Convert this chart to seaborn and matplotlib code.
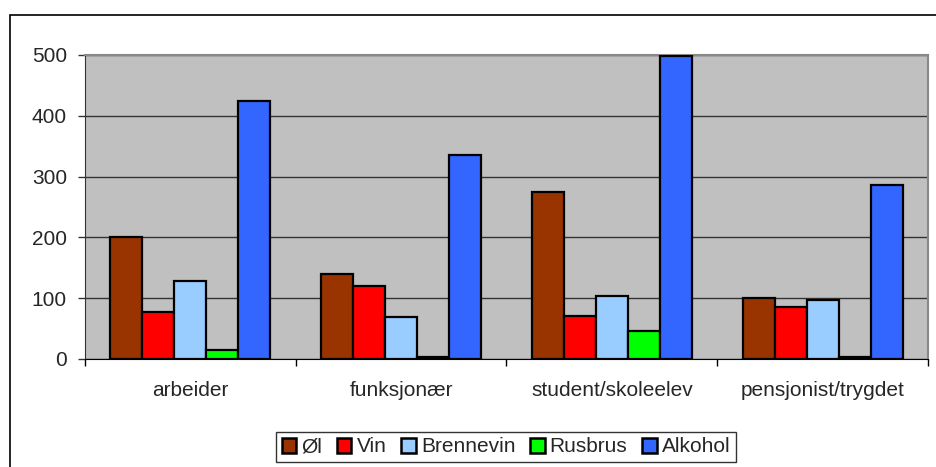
import pandas as pd
import matplotlib.pyplot as plt
import seaborn as sns
from matplotlib.patches import Rectangle

# =========================
# DATA
# =========================
groups = ["arbeider", "funksjonær", "student/skoleelev", "pensjonist/trygdet"]
series = ["Øl", "Vin", "Brennevin", "Rusbrus", "Alkohol"]

ol = [201, 139, 274, 100]
vin = [77, 120, 71, 85]
brennevin = [129, 69, 103, 97]
rusbrus = [14, 4, 46, 3]
alkohol = [425, 335, 498, 286]

colors = ["#993300", "#FF0000", "#99CCFF", "#00FF00", "#3366FF"]
yticks = [0, 100, 200, 300, 400, 500]

rows = []
for name, vals in zip(series, [ol, vin, brennevin, rusbrus, alkohol]):
    for g, v in zip(groups, vals):
        rows.append({"Gruppe": g, "Type": name, "Verdi": v})
df = pd.DataFrame(rows)

# =========================
# PLOT
# =========================
sns.set_style("white")
plt.rcParams['font.family'] = ['Liberation Sans', 'DejaVu Sans']

fig = plt.figure(figsize=(9.37, 4.67), dpi=100)
ax = fig.add_axes([85 / 937, 1 - 359 / 467, (928 - 85) / 937, (359 - 55) / 467])

sns.barplot(data=df, x="Gruppe", y="Verdi", hue="Type", order=groups,
            hue_order=series, palette=colors, saturation=1, width=0.76, gap=0,
            edgecolor="black", linewidth=1.6, ax=ax, legend=False, zorder=3)

ax.set_facecolor("#C0C0C0")
ax.set_ylim(0, 500)
ax.set_xlim(-0.5, 3.5)
ax.set_yticks(yticks)
ax.yaxis.grid(True, color="#333333", linewidth=1, zorder=1)
ax.set_axisbelow(True)
ax.set_xlabel("")
ax.set_ylabel("")

for s in ["top", "right"]:
    ax.spines[s].set_color("#888888")
    ax.spines[s].set_linewidth(1.5)
ax.spines["left"].set_color("#333333")
ax.spines["bottom"].set_color("black")

ax.tick_params(axis="y", direction="out", length=5, width=1, color="#333333",
               pad=8, labelsize=15, left=True)
ax.tick_params(axis="x", which="major", length=0, pad=16, labelsize=15)
ax.set_xticks([-0.5, 0.5, 1.5, 2.5, 3.5], minor=True)
ax.tick_params(axis="x", which="minor", direction="out", length=5, width=1,
               color="black", bottom=True)

# legend at bottom
handles = [Rectangle((0, 0), 1, 1, facecolor=c, edgecolor="black", linewidth=1.8)
           for c in colors]
leg = fig.legend(handles, series, loc="center", ncol=5,
                 bbox_to_anchor=(506 / 937, 1 - 447 / 467),
                 fontsize=15, frameon=True, fancybox=False,
                 handlelength=0.7, handleheight=0.7, handletextpad=0.25,
                 columnspacing=0.7, borderpad=0.25)
leg.get_frame().set_edgecolor("black")
leg.get_frame().set_linewidth(1)

# outer chart frame
fig.patches.append(Rectangle((10 / 937, -0.1), 1.2, 1 - 15 / 467 + 0.1,
                             transform=fig.transFigure, fill=False,
                             edgecolor="black", linewidth=1.2))

plt.savefig("out.png", dpi=100)
